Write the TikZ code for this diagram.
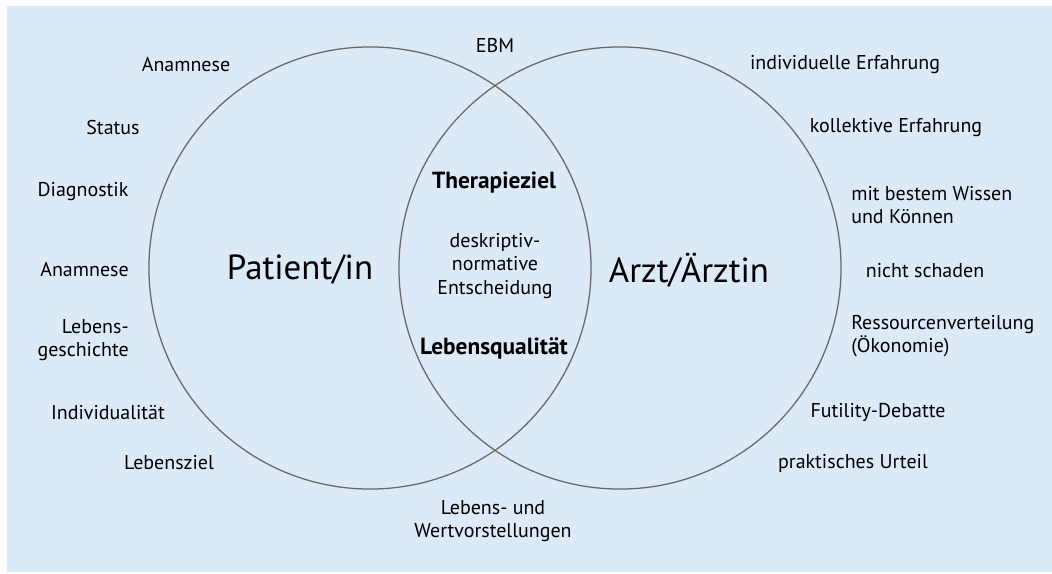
\documentclass[tikz,border=0pt]{standalone}
\usepackage{fontspec}
\setmainfont{PT Sans}
\definecolor{hgblau}{RGB}{220,233,247}
\definecolor{kreisgrau}{RGB}{105,105,105}

\begin{document}
\begin{tikzpicture}[x=0.025cm,y=0.025cm,
  txt/.style={font=\fontsize{14.2}{16.4}\selectfont,align=center,inner sep=0pt},
  fett/.style={txt,font=\fontsize{16.6}{18}\selectfont\bfseries},
  gross/.style={font=\fontsize{24.8}{28}\selectfont,inner sep=0pt},
  ring/.style={circle,draw=kreisgrau,line width=0.9pt,minimum size=11.05cm,inner sep=0pt}]
  \useasboundingbox (0,0) rectangle (1052,573);
  \fill[hgblau] (7,1) rectangle (1052,567);

  \node[ring] (links) at (370,305) {};
  \node[ring] (rechts) at (620,305) {};

  \node[gross] (pat) at (300,303) {Patient/in};
  \node[gross] (arzt) at (689,303) {Arzt/Ärztin};

  % Schnittmenge
  \node[txt] (ebm) at (495,527) {EBM};
  \node[fett] (ther) at (494,390) {Therapieziel};
  \node[txt] (desk) at (495,307) {deskriptiv-\\normative\\Entscheidung};
  \node[fett] (lq) at (494,225) {Lebensqualität};
  \node[txt] (werte) at (493,52) {Lebens- und\\Wertvorstellungen};

  % Patientenseite
  \node[txt] (anam1) at (186,508) {Anamnese};
  \node[txt] (status) at (113,445) {Status};
  \node[txt] (diag) at (83,381) {Diagnostik};
  \node[txt,anchor=east] (anam2) at (129,303) {Anamnese};
  \node[txt,anchor=east,align=right] (lgesch) at (129,233) {Lebens-\\geschichte};
  \node[txt] (indiv) at (108,160) {Individualität};
  \node[txt] (lziel) at (169,110) {Lebensziel};

  % Arztseite
  \node[txt] (ierf) at (845,508) {individuelle Erfahrung};
  \node[txt] (kerf) at (896,445) {kollektive Erfahrung};
  \node[txt,anchor=west,align=left] (wissen) at (851,368) {mit bestem Wissen\\und Können};
  \node[txt] (schaden) at (925,302) {nicht schaden};
  \node[txt,anchor=west,align=left] (oek) at (851,237) {Ressourcenverteilung\\(Ökonomie)};
  \node[txt] (futil) at (878,161) {Futility-Debatte};
  \node[txt] (urteil) at (853,110) {praktisches Urteil};
\end{tikzpicture}
\end{document}
